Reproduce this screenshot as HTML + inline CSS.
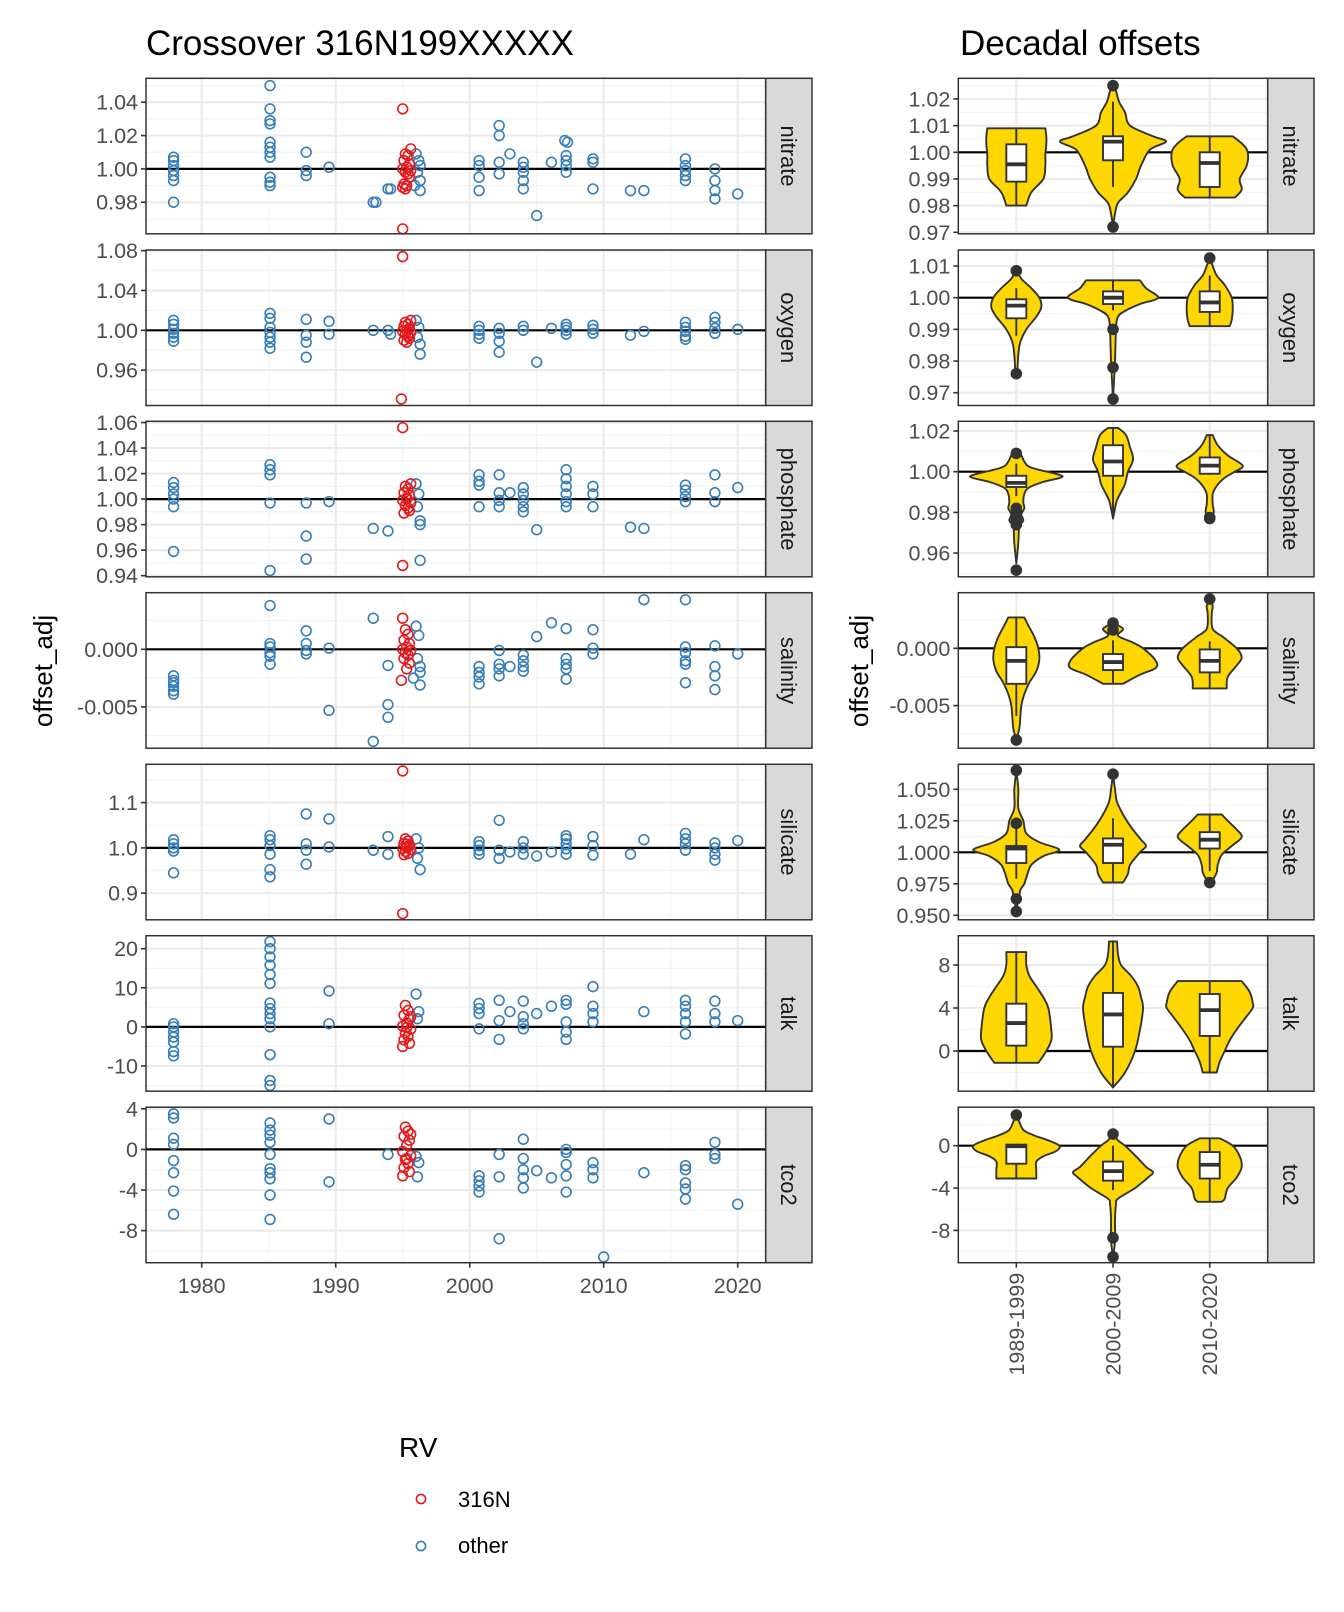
<!DOCTYPE html>
<html><head><meta charset="utf-8"><style>
html,body{margin:0;padding:0;background:#fff;}
svg{display:block;font-family:"Liberation Sans",Arial,sans-serif;}
</style></head><body>
<svg id="chart" width="1344" height="1612" viewBox="0 0 1344 1612" xmlns="http://www.w3.org/2000/svg">
<text x="146" y="55" font-size="35" fill="#000">Crossover 316N199XXXXX</text>
<text x="960" y="55" font-size="35" fill="#000">Decadal offsets</text>
<text transform="translate(52,671) rotate(-90)" text-anchor="middle" font-size="26" fill="#000">offset_adj</text>
<text transform="translate(868,671) rotate(-90)" text-anchor="middle" font-size="26" fill="#000">offset_adj</text>
<g id="left"></g>
<g id="right"></g>
<g>
<text x="399" y="1457" font-size="28" fill="#000">RV</text>
<circle cx="421" cy="1499" r="4.6" fill="none" stroke="#e41a1c" stroke-width="1.6"/>
<text x="458" y="1507" font-size="22" fill="#000">316N</text>
<circle cx="421" cy="1546" r="4.6" fill="none" stroke="#377eb8" stroke-width="1.6"/>
<text x="458" y="1553" font-size="22" fill="#000">other</text>
</g>
</svg>
<script>
// ---------- data ----------
const facets = ['nitrate','oxygen','phosphate','salinity','silicate','talk','tco2'];
const yearTicks = [1980,1990,2000,2010,2020];
const decades = ['1989-1999','2000-2009','2010-2020'];

const leftTicks = {
 nitrate:['0.98','1.00','1.02','1.04'], oxygen:['0.96','1.00','1.04','1.08'],
 phosphate:['0.94','0.96','0.98','1.00','1.02','1.04','1.06'], salinity:['-0.005','0.000'],
 silicate:['0.9','1.0','1.1'], talk:['-10','0','10','20'], tco2:['-8','-4','0','4']};
const rightTicks = {
 nitrate:['0.97','0.98','0.99','1.00','1.01','1.02'], oxygen:['0.97','0.98','0.99','1.00','1.01'],
 phosphate:['0.96','0.98','1.00','1.02'], salinity:['-0.005','0.000'],
 silicate:['0.950','0.975','1.000','1.025','1.050'], talk:['0','4','8'], tco2:['-8','-4','0']};
const refLine = {nitrate:1,oxygen:1,phosphate:1,salinity:0,silicate:1,talk:0,tco2:0};

const nitrateOther = [[1977.9,1.007],[1977.9,1.005],[1977.9,1.002],[1977.9,0.999],[1977.9,0.996],[1977.9,0.993],[1977.9,0.980],
 [1985.1,1.050],[1985.1,1.036],[1985.1,1.029],[1985.1,1.027],[1985.1,1.016],[1985.1,1.013],[1985.1,1.010],[1985.1,1.007],[1985.1,0.995],[1985.1,0.992],[1985.1,0.990],
 [1987.8,1.010],[1987.8,0.999],[1987.8,0.996],[1989.5,1.001],[1992.8,0.980],[1993.0,0.980],[1993.9,0.988],[1994.1,0.988],
 [1996.0,1.009],[1996.2,1.005],[1996.3,1.002],[1996.1,0.998],[1996.3,0.993],[1996.3,0.987],[1995.9,0.990],
 [2000.7,1.005],[2000.7,1.002],[2000.7,0.995],[2000.7,0.987],[2002.2,1.026],[2002.2,1.020],[2002.2,1.004],[2002.2,0.997],[2003.0,1.009],
 [2004.0,1.004],[2004.0,1.001],[2004.0,0.998],[2004.0,0.993],[2004.0,0.988],[2005.0,0.972],[2006.1,1.004],
 [2007.1,1.017],[2007.3,1.016],[2007.2,1.008],[2007.2,1.005],[2007.2,1.002],[2007.2,0.998],[2009.2,1.006],[2009.2,1.004],[2009.2,0.988],
 [2012.0,0.987],[2013.0,0.987],[2016.1,1.006],[2016.1,1.002],[2016.1,0.999],[2016.1,0.996],[2016.1,0.993],
 [2018.3,1.000],[2018.3,0.993],[2018.3,0.987],[2018.3,0.982],[2020.0,0.985]];
const nitrate316N = [[1995.0,1.036],[1995.0,0.964],[1995.6,1.012],[1995.2,1.009],[1995.4,1.008],[1995.1,1.005],[1995.5,1.003],[1995.3,1.001],
 [1995.0,1.000],[1995.6,0.999],[1995.2,0.998],[1995.4,0.997],[1995.5,0.995],[1995.1,0.991],[1995.3,0.990],[1995.0,0.989],[1995.2,0.988]];

const oxygenOther = [[1977.9,1.010],[1977.9,1.006],[1977.9,1.001],[1977.9,0.997],[1977.9,0.993],[1977.9,0.989],
 [1985.1,1.017],[1985.1,1.012],[1985.1,1.003],[1985.1,0.998],[1985.1,0.993],[1985.1,0.988],[1985.1,0.982],
 [1987.8,1.011],[1987.8,0.995],[1987.8,0.988],[1987.8,0.973],[1989.5,1.009],[1989.5,0.996],[1992.8,1.000],[1993.9,1.000],[1994.1,0.996],
 [1996.0,1.010],[1996.2,1.003],[1996.1,0.993],[1996.3,0.986],[1996.3,0.976],
 [2000.7,1.004],[2000.7,1.000],[2000.7,0.996],[2000.7,0.992],[2002.2,1.002],[2002.2,0.997],[2002.2,0.989],[2002.2,0.978],
 [2004.0,1.004],[2004.0,1.000],[2005.0,0.968],[2006.1,1.002],[2007.2,1.006],[2007.2,1.003],[2007.2,1.000],[2007.2,0.996],
 [2009.2,1.005],[2009.2,1.001],[2009.2,0.997],[2012.0,0.995],[2013.0,0.999],
 [2016.1,1.008],[2016.1,1.003],[2016.1,0.999],[2016.1,0.994],[2016.1,0.991],[2018.3,1.013],[2018.3,1.008],[2018.3,1.002],[2018.3,0.997],[2020.0,1.001]];
const oxygen316N = [[1995.0,1.074],[1994.9,0.931],[1995.6,1.010],[1995.2,1.008],[1995.4,1.006],[1995.1,1.004],[1995.5,1.002],[1995.3,1.000],
 [1995.0,0.999],[1995.6,0.998],[1995.2,0.996],[1995.4,0.994],[1995.5,0.992],[1995.1,0.990],[1995.3,0.988]];

const phosphateOther = [[1977.9,1.013],[1977.9,1.009],[1977.9,1.004],[1977.9,1.000],[1977.9,0.994],[1977.9,0.959],
 [1985.1,1.027],[1985.1,1.023],[1985.1,1.019],[1985.1,0.997],[1985.1,0.944],[1987.8,0.997],[1987.8,0.971],[1987.8,0.953],[1989.5,0.998],
 [1992.8,0.977],[1993.9,0.975],[1996.0,1.012],[1996.2,1.004],[1996.1,0.994],[1996.3,0.983],[1996.3,0.980],[1996.3,0.952],
 [2000.7,1.019],[2000.7,1.014],[2000.7,1.011],[2000.7,0.994],[2002.2,1.019],[2002.2,1.005],[2002.2,0.999],[2002.2,0.994],[2003.0,1.005],
 [2004.0,1.009],[2004.0,1.004],[2004.0,0.999],[2004.0,0.994],[2004.0,0.990],[2005.0,0.976],
 [2007.2,1.023],[2007.2,1.016],[2007.2,1.010],[2007.2,1.004],[2007.2,0.998],[2007.2,0.994],[2009.2,1.010],[2009.2,1.004],[2009.2,0.994],
 [2012.0,0.978],[2013.0,0.977],[2016.1,1.011],[2016.1,1.007],[2016.1,1.002],[2016.1,0.998],[2018.3,1.019],[2018.3,1.005],[2018.3,0.998],[2020.0,1.009]];
const phosphate316N = [[1995.0,1.056],[1995.0,0.948],[1995.6,1.012],[1995.2,1.010],[1995.4,1.008],[1995.1,1.005],[1995.5,1.003],[1995.3,1.001],
 [1995.0,0.999],[1995.6,0.997],[1995.2,0.995],[1995.4,0.993],[1995.5,0.991],[1995.1,0.989],[1995.3,1.000]];

const salinityOther = [[1977.9,-0.0023],[1977.9,-0.0027],[1977.9,-0.0029],[1977.9,-0.0032],[1977.9,-0.0036],[1977.9,-0.0039],
 [1985.1,0.0038],[1985.1,0.0005],[1985.1,0.0002],[1985.1,-0.0003],[1985.1,-0.0006],[1985.1,-0.0013],
 [1987.8,0.0016],[1987.8,0.0005],[1987.8,-0.0001],[1987.8,-0.0004],[1989.5,0.0001],[1989.5,-0.0053],
 [1992.8,0.0027],[1992.8,-0.0080],[1993.9,-0.0014],[1993.9,-0.0048],[1993.9,-0.0059],
 [1996.0,0.0020],[1996.2,0.0012],[1996.1,-0.0008],[1996.3,-0.0015],[1996.3,-0.0020],[1996.3,-0.0031],[1995.8,-0.0025],
 [2000.7,-0.0015],[2000.7,-0.0020],[2000.7,-0.0024],[2000.7,-0.0030],[2002.2,-0.0001],[2002.2,-0.0013],[2002.2,-0.0017],[2002.2,-0.0023],
 [2003.0,-0.0015],[2004.0,-0.0005],[2004.0,-0.0010],[2004.0,-0.0015],[2004.0,-0.0019],[2005.0,0.0011],[2006.1,0.0023],
 [2007.2,0.0018],[2007.2,-0.0008],[2007.2,-0.0013],[2007.2,-0.0017],[2007.2,-0.0026],[2009.2,0.0017],[2009.2,0.0001],[2009.2,-0.0004],
 [2013.0,0.0043],[2016.1,0.0043],[2016.1,0.0002],[2016.1,-0.0003],[2016.1,-0.0010],[2016.1,-0.0013],[2016.1,-0.0029],
 [2018.3,0.0003],[2018.3,-0.0015],[2018.3,-0.0023],[2018.3,-0.0035],[2020.0,-0.0004]];
const salinity316N = [[1995.0,0.0027],[1994.9,-0.0027],[1995.2,0.0017],[1995.4,0.0013],[1995.1,0.0008],[1995.5,0.0005],[1995.3,0.0002],
 [1995.0,0.0000],[1995.6,-0.0001],[1995.2,-0.0003],[1995.4,-0.0005],[1995.1,-0.0008],[1995.5,-0.0012],[1995.3,-0.0017]];

const silicateOther = [[1977.9,1.018],[1977.9,1.009],[1977.9,1.000],[1977.9,0.993],[1977.9,0.945],
 [1985.1,1.027],[1985.1,1.018],[1985.1,1.005],[1985.1,0.986],[1985.1,0.952],[1985.1,0.936],
 [1987.8,1.075],[1987.8,1.009],[1987.8,0.995],[1987.8,0.964],[1989.5,1.064],[1989.5,1.002],[1992.8,0.995],[1993.9,1.025],[1993.9,0.986],
 [1996.0,1.020],[1996.2,1.000],[1996.1,0.977],[1996.3,0.952],
 [2000.7,1.014],[2000.7,1.005],[2000.7,0.995],[2000.7,0.986],[2002.2,1.061],[2002.2,0.995],[2002.2,0.977],[2003.0,0.991],
 [2004.0,1.014],[2004.0,1.000],[2004.0,0.986],[2005.0,0.982],[2006.1,0.991],
 [2007.2,1.027],[2007.2,1.020],[2007.2,1.009],[2007.2,0.998],[2007.2,0.986],[2009.2,1.025],[2009.2,1.005],[2009.2,0.984],
 [2012.0,0.986],[2013.0,1.018],[2016.1,1.032],[2016.1,1.020],[2016.1,1.009],[2016.1,0.995],
 [2018.3,1.011],[2018.3,1.000],[2018.3,0.986],[2018.3,0.973],[2020.0,1.016]];
const silicate316N = [[1995.0,1.170],[1995.0,0.855],[1995.2,1.020],[1995.4,1.015],[1995.1,1.010],[1995.5,1.006],[1995.3,1.002],
 [1995.0,0.999],[1995.6,0.996],[1995.2,0.992],[1995.4,0.988],[1995.1,0.985],[1995.3,1.008]];

const talkOther = [[1977.9,0.8],[1977.9,0],[1977.9,-1.3],[1977.9,-2.6],[1977.9,-3.9],[1977.9,-6.3],[1977.9,-7.4],
 [1985.1,21.8],[1985.1,20],[1985.1,17.9],[1985.1,15.8],[1985.1,13.4],[1985.1,11.1],[1985.1,6.1],[1985.1,4.7],[1985.1,3.4],[1985.1,2.1],[1985.1,0],
 [1985.1,-7.1],[1985.1,-13.7],[1985.1,-15],[1989.5,9.2],[1989.5,0.8],[1996.0,8.4],[1996.2,3.9],[1996.1,2.1],
 [2000.7,6],[2000.7,4.7],[2000.7,3.4],[2000.7,-0.5],[2002.2,6.8],[2002.2,1.6],[2002.2,-3.2],[2003.0,3.9],
 [2004.0,6.6],[2004.0,2.6],[2004.0,0.8],[2004.0,-0.5],[2005.0,3.4],[2006.1,5.3],
 [2007.2,6.8],[2007.2,5.8],[2007.2,1.3],[2007.2,-1.3],[2007.2,-3.2],[2009.2,10.3],[2009.2,5.3],[2009.2,3.4],[2009.2,1.3],[2013.0,3.9],
 [2016.1,6.8],[2016.1,5.3],[2016.1,3.4],[2016.1,1.3],[2016.1,-1.8],[2018.3,6.6],[2018.3,3.4],[2018.3,1.3],[2020.0,1.6]];
const talk316N = [[1995.2,5.5],[1995.4,4.2],[1995.1,3.0],[1995.5,2.0],[1995.3,1.0],[1995.0,0.2],[1995.6,-0.6],[1995.2,-1.5],[1995.4,-2.4],
 [1995.1,-3.3],[1995.5,-4.2],[1995.0,-5.0],[1995.6,2.6],[1995.3,-0.2]];

const tco2Other = [[1977.9,3.5],[1977.9,3.1],[1977.9,1.1],[1977.9,0.5],[1977.9,-1.1],[1977.9,-2.3],[1977.9,-4.1],[1977.9,-6.4],
 [1985.1,2.6],[1985.1,1.9],[1985.1,1.4],[1985.1,0.7],[1985.1,-0.5],[1985.1,-1.9],[1985.1,-2.3],[1985.1,-2.9],[1985.1,-4.5],[1985.1,-6.9],
 [1989.5,3.0],[1989.5,-3.2],[1993.9,-0.5],[1996.0,-0.7],[1996.2,-1.3],[1996.1,-2.7],
 [2000.7,-2.6],[2000.7,-3.1],[2000.7,-3.6],[2000.7,-4.2],[2002.2,-0.5],[2002.2,-2.7],[2002.2,-8.8],
 [2004.0,1.0],[2004.0,-0.9],[2004.0,-2.0],[2004.0,-2.8],[2004.0,-3.8],[2005.0,-2.1],[2006.1,-2.8],
 [2007.2,0],[2007.2,-0.3],[2007.2,-1.5],[2007.2,-2.6],[2007.2,-4.2],[2009.2,-1.3],[2009.2,-2.0],[2009.2,-2.8],[2010.0,-10.6],[2013.0,-2.3],
 [2016.1,-1.6],[2016.1,-2.0],[2016.1,-3.3],[2016.1,-3.9],[2016.1,-4.9],[2018.3,0.7],[2018.3,-0.5],[2018.3,-0.9],[2020.0,-5.4]];
const tco2316N = [[1995.2,2.2],[1995.4,1.8],[1995.1,1.3],[1995.5,0.9],[1995.3,0.4],[1995.0,-0.2],[1995.6,-0.6],[1995.2,-1.0],[1995.4,-1.4],
 [1995.1,-1.8],[1995.5,-2.2],[1995.0,-2.6],[1995.6,1.5],[1995.3,-0.9]];

const otherByFacet = {nitrate:nitrateOther,oxygen:oxygenOther,phosphate:phosphateOther,salinity:salinityOther,silicate:silicateOther,talk:talkOther,tco2:tco2Other};
const ownByFacet = {nitrate:nitrate316N,oxygen:oxygen316N,phosphate:phosphate316N,salinity:salinity316N,silicate:silicate316N,talk:talk316N,tco2:tco2316N};

const nitrateViolins = [
 [[1.009,29],[1.006,30],[1.003,30],[0.999,29],[0.995,29],[0.990,27],[0.985,15],[0.980,10]],
 [[1.025,0],[1.023,3],[1.019,6],[1.015,12],[1.010,17],[1.006,40],[1.004,53],[1.001,37],[0.995,28],[0.990,23],[0.985,15],[0.981,5],[0.977,2],[0.972,0]],
 [[1.006,23],[1.003,33],[1.000,38],[0.995,37],[0.990,30],[0.986,32],[0.983,25]]];
const oxygenViolins = [
 [[1.009,0],[1.006,5],[1.003,15],[1.000,23],[0.997,25],[0.994,20],[0.990,10],[0.986,4],[0.982,2],[0.977,1],[0.976,0]],
 [[1.0055,27],[1.003,33],[1.000,45],[0.998,27],[0.996,13],[0.994,5],[0.990,3],[0.980,2],[0.968,0]],
 [[1.0125,0],[1.010,3],[1.007,7],[1.004,15],[1.000,22],[0.996,23],[0.993,22],[0.991,20]]];
const phosphateViolins = [
 [[1.009,0],[1.008,5],[1.005,8],[1.002,15],[0.9985,43],[0.997,44],[0.995,27],[0.992,12],[0.989,8],[0.985,7],[0.982,8],[0.979,5],[0.976,7],[0.973,3],[0.965,2],[0.955,0]],
 [[1.0215,5],[1.018,13],[1.012,17],[1.006,20],[1.000,15],[0.994,12],[0.990,8],[0.986,4],[0.982,2],[0.977,0]],
 [[1.018,3],[1.013,8],[1.008,18],[1.003,33],[1.000,25],[0.997,15],[0.993,7],[0.989,3],[0.984,3],[0.980,4],[0.977,0]]];
const salinityViolins = [
 [[0.0027,8],[0.002,12],[0.001,18],[0,22],[-0.001,23],[-0.002,20],[-0.003,13],[-0.004,8],[-0.005,5],[-0.006,4],[-0.007,3],[-0.008,0]],
 [[0.0022,0],[0.0017,10],[0.0011,5],[0.0005,20],[0,30],[-0.001,42],[-0.0017,43],[-0.0023,27],[-0.0031,10]],
 [[0.0043,0],[0.0037,3],[0.003,2],[0.0017,3],[0.001,13],[0,27],[-0.0008,32],[-0.0015,27],[-0.0025,18],[-0.0035,17]]];
const silicateViolins = [
 [[1.065,0],[1.05,2],[1.035,2],[1.025,7],[1.015,10],[1.008,23],[1.002,43],[0.997,27],[0.99,15],[0.98,10],[0.975,8],[0.97,4],[0.965,3],[0.955,0]],
 [[1.062,0],[1.05,2],[1.04,4],[1.03,10],[1.02,18],[1.01,28],[1.005,33],[1.0,27],[0.99,17],[0.983,15],[0.976,10]],
 [[1.030,12],[1.025,18],[1.018,27],[1.012,32],[1.005,22],[0.998,12],[0.99,8],[0.984,7],[0.978,3],[0.975,0]]];
const talkViolins = [
 [[9.2,10],[8,10],[7,13],[6,20],[5,27],[4,32],[2,35],[1,35],[0,30],[-1.1,22]],
 [[10.2,4],[9,5],[8,8],[7,18],[6,25],[5,28],[4,30],[2,27],[0,22],[-2,12],[-3.4,0]],
 [[6.5,32],[5.5,40],[4.5,43],[4,43],[3,35],[2,27],[1,20],[0,15],[-1,10],[-2,7]]];
const tco2Violins = [
 [[2.9,0],[2.5,2],[1.5,7],[1,17],[0.5,32],[0,43],[-0.5,40],[-1,27],[-1.5,20],[-2.3,20],[-3.1,20]],
 [[1.1,0],[0.5,5],[0,12],[-1,23],[-2,33],[-2.5,40],[-3,35],[-4,22],[-5,5],[-5.5,3],[-7,2],[-9,2],[-10.5,0]],
 [[0.7,10],[0,23],[-1,30],[-2,32],[-3,27],[-4,18],[-5,15],[-5.3,12]]];
const violinsByFacet = {nitrate:nitrateViolins,oxygen:oxygenViolins,phosphate:phosphateViolins,salinity:salinityViolins,silicate:silicateViolins,talk:talkViolins,tco2:tco2Violins};

const nitrateBoxes = [[0.980,0.989,0.9955,1.003,1.009],[0.987,0.997,1.004,1.006,1.019],[0.983,0.987,0.996,1.000,1.006]];
const oxygenBoxes = [[0.988,0.9935,0.9975,0.9995,1.003],[0.996,0.998,1.000,1.002,1.0055],[0.991,0.9955,0.9985,1.002,1.007]];
const phosphateBoxes = [[0.988,0.9925,0.9945,0.998,1.004],[0.977,0.998,1.005,1.013,1.0215],[0.9985,0.999,1.003,1.007,1.018]];
const salinityBoxes = [[-0.0059,-0.0031,-0.0011,0.0001,0.0027],[-0.0031,-0.0019,-0.0012,-0.0005,0.0007],[-0.0035,-0.0021,-0.0011,-0.0001,0.0006]];
const silicateBoxes = [[0.979,0.9915,1.003,1.005,1.02],[0.976,0.9915,1.006,1.011,1.027],[0.985,1.003,1.01,1.016,1.030]];
const talkBoxes = [[-1.1,0.5,2.6,4.4,9.2],[-3.3,0.4,3.4,5.4,10.2],[-2,1.4,3.8,5.3,6.5]];
const tco2Boxes = [[-3.1,-1.7,-0.05,0.1,0.2],[-4.2,-3.3,-2.4,-1.5,0],[-5.3,-3.1,-1.8,-0.6,0.7]];
const boxesByFacet = {nitrate:nitrateBoxes,oxygen:oxygenBoxes,phosphate:phosphateBoxes,salinity:salinityBoxes,silicate:silicateBoxes,talk:talkBoxes,tco2:tco2Boxes};

const nitrateOutliers = [[],[1.025,0.972],[]];
const oxygenOutliers = [[1.0085,0.976],[0.990,0.978,0.968],[1.0125]];
const phosphateOutliers = [[1.009,0.982,0.980,0.978,0.976,0.974,0.9516],[],[0.9775,0.977]];
const salinityOutliers = [[-0.008],[0.0022,0.0016],[0.0043]];
const silicateOutliers = [[1.065,1.023,0.963,0.953],[1.062],[0.976]];
const talkOutliers = [[],[],[]];
const tco2Outliers = [[2.9],[1.1,-8.7,-10.5],[]];
const outliersByFacet = {nitrate:nitrateOutliers,oxygen:oxygenOutliers,phosphate:phosphateOutliers,salinity:salinityOutliers,silicate:silicateOutliers,talk:talkOutliers,tco2:tco2Outliers};

// ---------- layout ----------
const NS='http://www.w3.org/2000/svg';
const panelTops=[78.3,250,421.3,592.7,764.3,935.7,1107.2], panelH=155.5;
const L={x0:146,x1:765.7,s1:812}, R={x0:958.3,x1:1267.7,s1:1314};
const leftCal={nitrate:[1,168.9,1667],oxygen:[1,330.3,995.5],phosphate:[1,499.1,1276],salinity:[0,649.3,11520],silicate:[1,847.9,452.8],talk:[0,1026.9,3.91],tco2:[0,1149.4,10.15]};
const rightCal={nitrate:[1,152.3,2667],oxygen:[1,297.7,3167],phosphate:[1,471.7,2035],salinity:[0,648.3,11460],silicate:[1,852.3,1260],talk:[0,1051,10.75],tco2:[0,1145.7,10.59]};
const xYear=y=>201.7+(y-1980)*13.4;
const xCat=i=>R.x0+(0.6+i)*96.7;

function mk(tag,attrs,parent){const e=document.createElementNS(NS,tag);for(const k in attrs)e.setAttribute(k,attrs[k]);parent.appendChild(e);return e;}
function yScale(cal){return v=>cal[1]-(v-cal[0])*cal[2];}

function drawFrame(g,f,i,box,ticks,ys,side){
  const top=panelTops[i],bot=top+panelH;
  const vals=ticks.map(Number);
  const step=vals[1]-vals[0];
  for(let k=-6;k<vals.length+6;k++){const v=vals[0]+(k+0.5)*step;const y=ys(v);
    if(y>top&&y<bot){const ln=mk('line',{x1:box.x0,x2:box.x1,y1:y,y2:y,stroke:'#f2f2f2','stroke-width':1.1},g);
      }}
  if(side==='L'){
    [1975,1985,1995,2005,2015].forEach(yr=>{const x=xYear(yr);if(x>box.x0&&x<box.x1){const ln=mk('line',{x1:x,x2:x,y1:top,y2:bot,stroke:'#f2f2f2','stroke-width':1.1},g);
      }});
    yearTicks.forEach(yr=>{const x=xYear(yr);const ln=mk('line',{x1:x,x2:x,y1:top,y2:bot,stroke:'#ebebeb','stroke-width':2.2},g);
      });
  } else {
    decades.forEach((d,j)=>{const x=xCat(j);const ln=mk('line',{x1:x,x2:x,y1:top,y2:bot,stroke:'#ebebeb','stroke-width':2.2},g);
      });
  }
  ticks.forEach(t=>{const y=ys(Number(t));
    const ln=mk('line',{x1:box.x0,x2:box.x1,y1:y,y2:y,stroke:'#ebebeb','stroke-width':2.2},g);
    
    const tk=mk('line',{x1:box.x0-5,x2:box.x0,y1:y,y2:y,stroke:'#333','stroke-width':1.6},g);
    
    const tx=mk('text',{x:box.x0-8,y:y+7.5,'text-anchor':'end','font-size':21.5,fill:'#4d4d4d'},g);
    tx.textContent=t;});
  const ry=ys(refLine[f]);
  const rl=mk('line',{x1:box.x0,x2:box.x1,y1:ry,y2:ry,stroke:'#000','stroke-width':2.2},g);
  
}
function drawBorder(g,f,i,box){
  const top=panelTops[i];
  const b=mk('rect',{x:box.x0,y:top,width:box.x1-box.x0,height:panelH,fill:'none',stroke:'#333','stroke-width':1.5},g);
  
  const s=mk('rect',{x:box.x1,y:top,width:box.s1-box.x1,height:panelH,fill:'#d9d9d9',stroke:'#333','stroke-width':1.5},g);
  
  const cx=(box.x1+box.s1)/2, cy=top+panelH/2;
  const t=mk('text',{transform:`translate(${cx-8},${cy}) rotate(90)`,'text-anchor':'middle','font-size':22,fill:'#1a1a1a'},g);
  t.textContent=f;
}

const left=document.getElementById('left');
facets.forEach((f,i)=>{
  const g=mk('g',{},left);
  const ys=yScale(leftCal[f]);
  drawFrame(g,f,i,L,leftTicks[f],ys,'L');
  otherByFacet[f].forEach(p=>{const c=mk('circle',{cx:xYear(p[0]),cy:ys(p[1]),r:4.9,fill:'none',stroke:'#377eb8','stroke-width':1.6},g);
    });
  ownByFacet[f].forEach(p=>{const c=mk('circle',{cx:xYear(p[0]),cy:ys(p[1]),r:4.9,fill:'none',stroke:'#e41a1c','stroke-width':1.6},g);
    });
  drawBorder(g,f,i,L);
});
yearTicks.forEach(yr=>{const x=xYear(yr),b=panelTops[6]+panelH;
  const tk=mk('line',{x1:x,x2:x,y1:b,y2:b+5,stroke:'#333','stroke-width':1.6},left);
  
  const t=mk('text',{x:x,y:1293,'text-anchor':'middle','font-size':21.5,fill:'#4d4d4d'},left);
  t.textContent=yr;});

function smoothPath(pts){
  let d='';
  for(let i=0;i<pts.length-1;i++){
    const p0=pts[Math.max(0,i-1)],p1=pts[i],p2=pts[i+1],p3=pts[Math.min(pts.length-1,i+2)];
    const c1=[p1[0]+(p2[0]-p0[0])/6,p1[1]+(p2[1]-p0[1])/6],c2=[p2[0]-(p3[0]-p1[0])/6,p2[1]-(p3[1]-p1[1])/6];
    d+=` C${c1[0].toFixed(1)},${c1[1].toFixed(1)} ${c2[0].toFixed(1)},${c2[1].toFixed(1)} ${p2[0].toFixed(1)},${p2[1].toFixed(1)}`;
  }
  return d;
}
const right=document.getElementById('right');
facets.forEach((f,i)=>{
  const g=mk('g',{},right);
  const ys=yScale(rightCal[f]);
  drawFrame(g,f,i,R,rightTicks[f],ys,'R');
  decades.forEach((dname,j)=>{
    const cx=xCat(j);
    const prof=violinsByFacet[f][j];
    const rp=prof.map(p=>[cx+p[1],ys(p[0])]);
    const lp=prof.slice().reverse().map(p=>[cx-p[1],ys(p[0])]);
    let d=`M${rp[0][0].toFixed(1)},${rp[0][1].toFixed(1)}`+smoothPath(rp)+` L${lp[0][0].toFixed(1)},${lp[0][1].toFixed(1)}`+smoothPath(lp)+'Z';
    const v=mk('path',{d:d,fill:'#ffd700',stroke:'#333','stroke-width':1.9,'stroke-linejoin':'round'},g);
    
    const b=boxesByFacet[f][j];
    const w=mk('line',{x1:cx,x2:cx,y1:ys(b[0]),y2:ys(b[4]),stroke:'#333','stroke-width':1.9},g);
    
    const r=mk('rect',{x:cx-10,y:ys(b[3]),width:20,height:ys(b[1])-ys(b[3]),fill:'#fff',stroke:'#333','stroke-width':1.9},g);
    
    const m=mk('line',{x1:cx-10,x2:cx+10,y1:ys(b[2]),y2:ys(b[2]),stroke:'#333','stroke-width':3.8},g);
    
    outliersByFacet[f][j].forEach(o=>{const c=mk('circle',{cx:cx,cy:ys(o),r:5.8,fill:'#333'},g);
      });
  });
  drawBorder(g,f,i,R);
});
decades.forEach((dn,j)=>{const x=xCat(j),b=panelTops[6]+panelH;
  const tk=mk('line',{x1:x,x2:x,y1:b,y2:b+5,stroke:'#333','stroke-width':1.6},right);
  
  const t=mk('text',{transform:`translate(${x+7.5},${b+10}) rotate(-90)`,'text-anchor':'end','font-size':21.5,fill:'#4d4d4d'},right);
  t.textContent=dn;});
</script>
</body></html>
